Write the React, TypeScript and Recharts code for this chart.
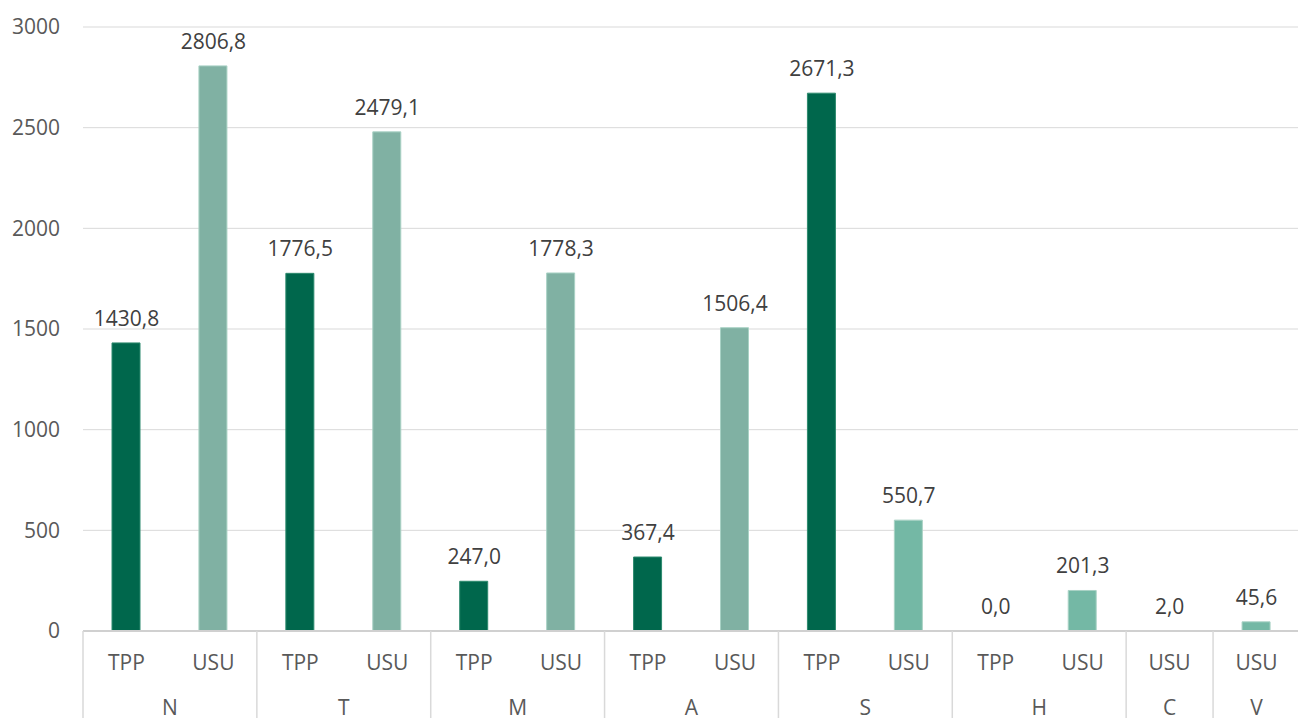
import React from 'react';
import { ComposedChart, Bar, Line, XAxis, YAxis, CartesianGrid, Cell, LabelList } from 'recharts';

const groups = ['N', 'N', 'T', 'T', 'M', 'M', 'A', 'A', 'S', 'S', 'H', 'H', 'C', 'V'];
const subs = ['TPP', 'USU', 'TPP', 'USU', 'TPP', 'USU', 'TPP', 'USU', 'TPP', 'USU', 'TPP', 'USU', 'USU', 'USU'];
const values = [1430.8, 2806.8, 1776.5, 2479.1, 247.0, 1778.3, 367.4, 1506.4, 2671.3, 550.7, 0.0, 201.3, 2.0, 45.6];
const colors = ['#00674c', '#80b1a3', '#00674c', '#80b1a3', '#00674c', '#80b1a3', '#00674c', '#80b1a3', '#00674c', '#74b8a5', '#00674c', '#74b8a5', '#74b8a5', '#74b8a5'];
const yTicks = [0, 500, 1000, 1500, 2000, 2500, 3000];

const data = values.map((v, i) => ({ key: groups[i] + '-' + subs[i] + '-' + i, value: v, sub: subs[i], group: groups[i] }));

const W = 1298;
const H = 710;
const M = { top: 19, right: 6, left: 0, bottom: 0 };
const Y_W = 75;
const X_H = 87;
const BW = (W - M.left - M.right - Y_W) / data.length;
const FONT = '"Open Sans", sans-serif';
const FS = 21;

const fmt = (v: any) => Number(v).toFixed(1).replace('.', ',');

const HierTick = (props: any) => {
  const { x, y, payload } = props;
  const i = payload.index;
  const d = data[i];
  const isStart = i === 0 || data[i - 1].group !== d.group;
  let size = 0;
  if (isStart) {
    for (let j = i; j < data.length && data[j].group === d.group; j++) size++;
  }
  const left = x - BW / 2;
  return (
    <g>
      <text x={x} y={y + 39} textAnchor="middle" fill="#595959" fontSize={FS} fontFamily={FONT}>{d.sub}</text>
      {isStart && (
        <>
          <line x1={left} x2={left} y1={y} y2={y + X_H} stroke="#d9d9d9" strokeWidth={1.5} />
          <text x={left + (size * BW) / 2} y={y + 84} textAnchor="middle" fill="#595959" fontSize={FS} fontFamily={FONT}>{d.group}</text>
        </>
      )}
    </g>
  );
};

export default function App() {
  return (
    <ComposedChart width={W} height={H} data={data} margin={M}>
      <CartesianGrid vertical={false} stroke="#d9d9d9" strokeWidth={1} />
      <XAxis
        dataKey="key"
        interval={0}
        height={X_H}
        tickLine={false}
        tickSize={0}
        tickMargin={0}
        axisLine={{ stroke: '#d0d0d0', strokeWidth: 2 }}
        tick={<HierTick />}
      />
      <YAxis
        width={Y_W}
        domain={[0, 3000]}
        ticks={yTicks}
        axisLine={false}
        tickLine={false}
        tickSize={0}
        tickMargin={23}
        tick={{ fill: '#595959', fontSize: FS, fontFamily: FONT }}
      />
      <Bar dataKey="value" barSize={28} isAnimationActive={false}>
        {data.map((d, i) => (
          <Cell key={d.key} fill={colors[i]} stroke={d.sub === 'TPP' ? '#2d8a6e' : '#a9d2c5'} strokeWidth={1} />
        ))}
      </Bar>
      <Line dataKey="value" stroke="none" dot={false} activeDot={false} isAnimationActive={false} legendType="none">
        <LabelList dataKey="value" position="top" offset={17} formatter={fmt} fill="#404040" fontSize={FS} fontFamily={FONT} />
      </Line>
    </ComposedChart>
  );
}
